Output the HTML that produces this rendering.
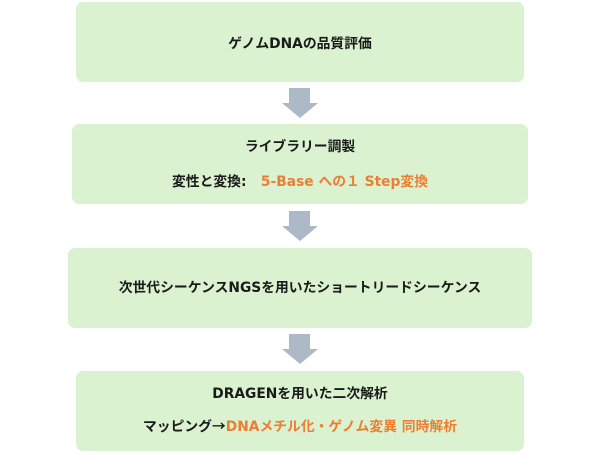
<!DOCTYPE html>
<html><head><meta charset="utf-8"><style>
body{margin:0;width:600px;height:454px;background:#fff;position:relative;font-family:"DejaVu Sans","Noto Sans CJK JP",sans-serif;font-weight:bold;font-size:13.8px;color:#1a1a1a;overflow:hidden}
.b{position:absolute;background:#daf2d0;border-radius:7px}
.t{position:absolute;left:0;right:0;text-align:center;white-space:nowrap}
.o{color:#ed7d31}
.a{font-family:"Noto Sans CJK JP",sans-serif}
svg{position:absolute;left:0;top:0}
</style></head><body>
<div class="b" style="left:76px;top:2px;width:448px;height:80px"><div class="t" style="top:30px">ゲノムDNAの品質評価</div></div>
<div class="b" style="left:72px;top:124px;width:456px;height:80px"><div class="t" style="top:11px">ライブラリー調製</div><div class="t" style="top:46px">変性と変換:&nbsp;&nbsp;&nbsp;<span class="o">5-Base への１ Step変換</span></div></div>
<div class="b" style="left:68px;top:248px;width:464px;height:80px"><div class="t" style="top:28px">次世代シーケンスNGSを用いたショートリードシーケンス</div></div>
<div class="b" style="left:76px;top:371px;width:448px;height:80px"><div class="t" style="top:11px">DRAGENを用いた二次解析</div><div class="t" style="top:44px">マッピング<span class="a">→</span><span class="o">DNAメチル化・ゲノム変異 同時解析</span></div></div>
<svg width="600" height="454">
<g fill="#adb9c6">
<polygon points="289,88 310,88 310,103 318,103 300,118 282,103 289,103"/>
<polygon points="289,211 310,211 310,226 318,226 300,241 282,226 289,226"/>
<polygon points="289,334 310,334 310,349 318,349 300,364 282,349 289,349"/>
</g></svg>
</body></html>
